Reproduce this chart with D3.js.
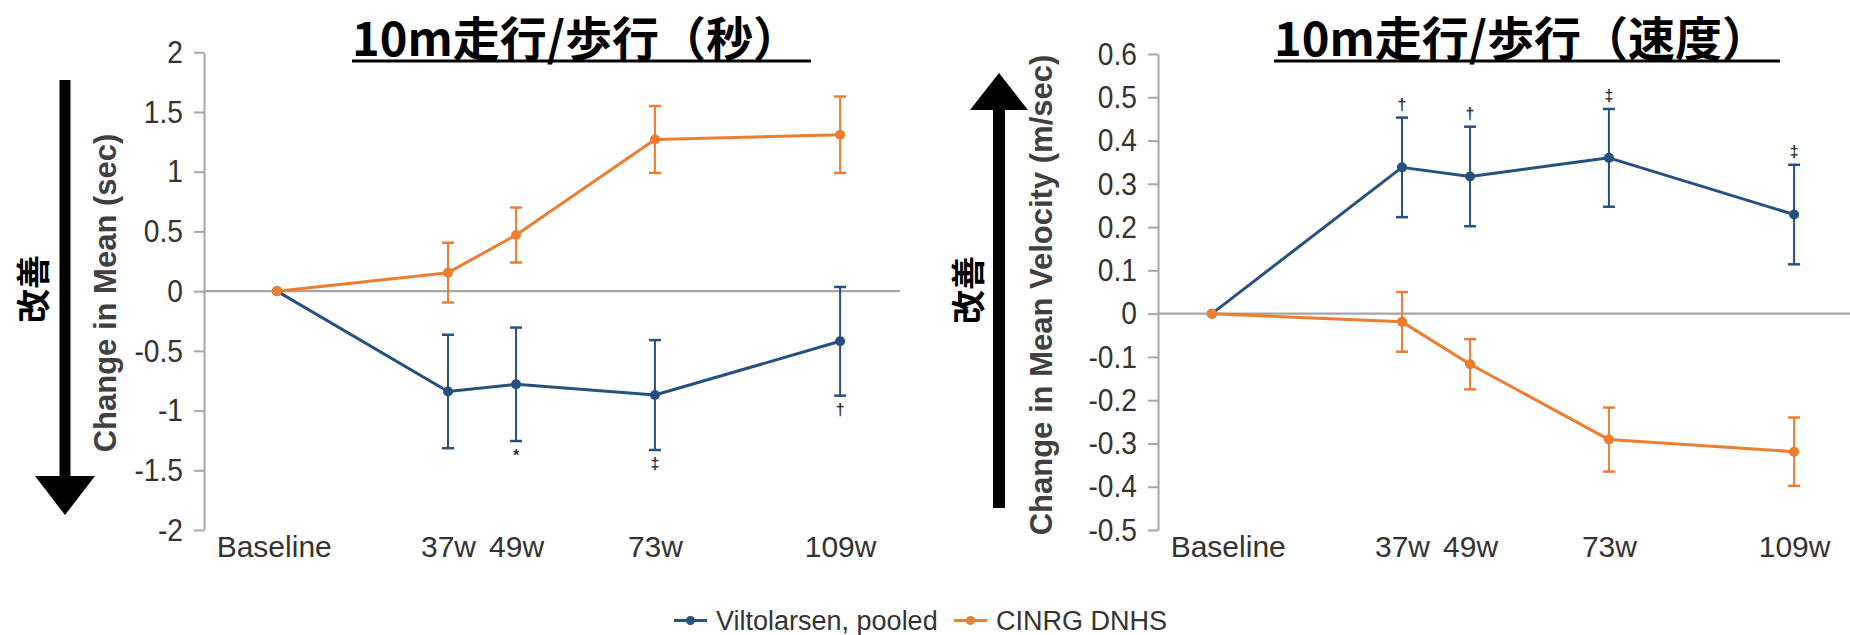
<!DOCTYPE html>
<html><head><meta charset="utf-8">
<script src="https://cdn.jsdelivr.net/npm/d3@7"></script>
<style>
body{margin:0;background:#fff;}
svg{display:block;}
</style>
</head><body>
<svg id="chart" width="1850" height="635"></svg>
<script>
// ---------- data ----------
const timeLabels = ["Baseline", "37w", "49w", "73w", "109w"];
const labelWeeks = [5, 37, 49.5, 75, 109];          // where the category labels sit on the time axis
const secWeeks   = [5.6, 37, 49.5, 75, 109];        // plotted time positions, left chart
const velWeeks   = [2.1, 37, 49.5, 75, 109];        // plotted time positions, right chart

const seriesNames = ["Viltolarsen, pooled", "CINRG DNHS"];

// 10m run/walk time change (sec)
const secVilto    = [0, -0.84, -0.78, -0.87, -0.42];
const secViltoErr = [0, 0.475, 0.475, 0.46, 0.455];
const secCinrg    = [0, 0.155, 0.47, 1.27, 1.31];
const secCinrgErr = [0, 0.25, 0.23, 0.28, 0.32];
const secViltoSig = ["", "", "*", "‡", "†"];

// 10m run/walk velocity change (m/sec)
const velVilto    = [0, 0.338, 0.317, 0.36, 0.229];
const velViltoErr = [0, 0.115, 0.115, 0.113, 0.115];
const velCinrg    = [0, -0.019, -0.117, -0.291, -0.319];
const velCinrgErr = [0, 0.069, 0.058, 0.074, 0.079];
const velViltoSig = ["", "†", "†", "‡", "‡"];

const secTicks = [-2, -1.5, -1, -0.5, 0, 0.5, 1, 1.5, 2];
const velTicks = [-0.5, -0.4, -0.3, -0.2, -0.1, 0, 0.1, 0.2, 0.3, 0.4, 0.5, 0.6];

const titles = ["10m走行/歩行（秒）", "10m走行/歩行（速度）"];
const yTitles = ["Change in Mean (sec)", "Change in Mean Velocity (m/sec)"];
const improveLabel = "改善";

// ---------- style ----------
const BLUE = "#25507f";
const ORANGE = "#ed7d31";
const AXIS = "#a6a6a6";
const TEXT = "#333333";
const SANS = "'Liberation Sans', Arial, sans-serif";
const CJK = "'Noto Sans CJK JP', 'Noto Sans CJK SC', sans-serif";
const TICK_SX = 0.88;

const svg = d3.select("#chart");

function drawChart(cfg) {
  const g = svg.append("g");
  const x = d3.scaleLinear().domain([-7.8, 120]).range([cfg.left, cfg.left + 696]);
  const y = d3.scaleLinear().domain(cfg.yDomain).range([530, cfg.yTop]);

  // zero line
  g.append("line")
    .attr("x1", x.range()[0]).attr("x2", x.range()[1])
    .attr("y1", y(0)).attr("y2", y(0))
    .attr("stroke", AXIS).attr("stroke-width", 2.2);

  // y axis
  const ya = g.append("g")
    .attr("transform", `translate(${cfg.left},0)`)
    .call(d3.axisLeft(y).tickValues(cfg.ticks).tickSize(10).tickSizeOuter(0)
      .tickPadding(10).tickFormat(d => String(d)));
  ya.select(".domain").attr("stroke", AXIS).attr("stroke-width", 2);
  ya.selectAll(".tick line").attr("stroke", AXIS).attr("stroke-width", 2);
  ya.selectAll(".tick text").attr("font-family", SANS).attr("font-size", 32)
    .attr("fill", TEXT)
    .attr("x", -21 / TICK_SX)
    .attr("transform", `scale(${TICK_SX},1)`);

  // x labels
  const xa = g.append("g")
    .attr("transform", `translate(0,530)`)
    .call(d3.axisBottom(x).tickValues(labelWeeks).tickSize(0).tickPadding(6)
      .tickFormat((d, i) => timeLabels[i]));
  xa.select(".domain").remove();
  xa.selectAll(".tick text").attr("font-family", SANS).attr("font-size", 30)
    .attr("fill", TEXT);

  // title with underline
  const t = g.append("text")
    .attr("x", cfg.titleX).attr("y", 55.5)
    .attr("font-family", CJK).attr("font-weight", 700).attr("font-size", 47)
    .attr("fill", "#000").text(cfg.title);
  const tl = t.node().getComputedTextLength();
  g.append("line")
    .attr("x1", cfg.titleX).attr("x2", cfg.titleX + tl + 11)
    .attr("y1", 61).attr("y2", 61)
    .attr("stroke", "#000").attr("stroke-width", 3);

  // y title
  g.append("text")
    .attr("transform", `translate(${cfg.yTitleX},${cfg.yTitleY}) rotate(-90)`)
    .attr("text-anchor", "middle").attr("dominant-baseline", "central")
    .attr("font-family", SANS).attr("font-weight", 700).attr("font-size", 31)
    .attr("fill", "#404040").text(cfg.yTitle);

  // series
  const series = [
    {vals: cfg.vilto, err: cfg.viltoErr, color: BLUE, sig: cfg.sig},
    {vals: cfg.cinrg, err: cfg.cinrgErr, color: ORANGE, sig: null}
  ];
  const line = d3.line().x((d, i) => x(cfg.weeks[i])).y(d => y(d));
  series.forEach(s => {
    const sg = g.append("g");
    s.vals.forEach((v, i) => {
      if (!s.err[i]) return;
      const cx = x(cfg.weeks[i]);
      const y1 = y(v + s.err[i]), y2 = y(v - s.err[i]);
      sg.append("line").attr("x1", cx).attr("x2", cx).attr("y1", y1).attr("y2", y2)
        .attr("stroke", s.color).attr("stroke-width", 2);
      [y1, y2].forEach(yy => sg.append("line")
        .attr("x1", cx - 6).attr("x2", cx + 6).attr("y1", yy).attr("y2", yy)
        .attr("stroke", s.color).attr("stroke-width", 2.5));
      if (s.sig && s.sig[i]) {
        const ty = cfg.sigAbove ? y1 - 13 : y2 + 14;
        sg.append("text").attr("x", cx).attr("y", ty)
          .attr("text-anchor", "middle").attr("dominant-baseline", "central")
          .attr("font-family", SANS).attr("font-weight", 700).attr("font-size", 16).attr("fill", TEXT)
          .text(s.sig[i]);
      }
    });
    sg.append("path").attr("d", line(s.vals)).attr("fill", "none")
      .attr("stroke", s.color).attr("stroke-width", 3).attr("stroke-linejoin", "round");
    sg.selectAll("circle").data(s.vals).join("circle")
      .attr("cx", (d, i) => x(cfg.weeks[i])).attr("cy", d => y(d))
      .attr("r", 5).attr("fill", s.color);
  });
}

drawChart({
  left: 204, yDomain: [-2, 2], yTop: 52.3, ticks: secTicks, weeks: secWeeks,
  title: titles[0], titleX: 352, yTitle: yTitles[0], yTitleX: 105, yTitleY: 293,
  vilto: secVilto, viltoErr: secViltoErr, cinrg: secCinrg, cinrgErr: secCinrgErr,
  sig: secViltoSig, sigAbove: false
});
drawChart({
  left: 1158, yDomain: [-0.5, 0.6], yTop: 54, ticks: velTicks, weeks: velWeeks,
  title: titles[1], titleX: 1274, yTitle: yTitles[1], yTitleX: 1041, yTitleY: 295,
  vilto: velVilto, viltoErr: velViltoErr, cinrg: velCinrg, cinrgErr: velCinrgErr,
  sig: velViltoSig, sigAbove: true
});

// improvement arrows
// left: pointing down
svg.append("rect").attr("x", 59.5).attr("y", 80).attr("width", 11).attr("height", 398).attr("fill", "#000");
svg.append("path").attr("d", "M35,476 L95,476 L65,515 Z").attr("fill", "#000");
svg.append("text")
  .attr("transform", "translate(31,289) rotate(-90)")
  .attr("text-anchor", "middle").attr("dominant-baseline", "central")
  .attr("font-family", CJK).attr("font-weight", 700).attr("font-size", 34)
  .attr("fill", "#000").text(improveLabel);
// right: pointing up
svg.append("path").attr("d", "M999,73 L1028,110 L970,110 Z").attr("fill", "#000");
svg.append("rect").attr("x", 993).attr("y", 108).attr("width", 12).attr("height", 400).attr("fill", "#000");
svg.append("text")
  .attr("transform", "translate(966,290) rotate(-90)")
  .attr("text-anchor", "middle").attr("dominant-baseline", "central")
  .attr("font-family", CJK).attr("font-weight", 700).attr("font-size", 34)
  .attr("fill", "#000").text(improveLabel);

// legend
const legendItems = [
  {name: seriesNames[0], color: BLUE, mx: 674, tx: 716},
  {name: seriesNames[1], color: ORANGE, mx: 954, tx: 996}
];
const lg = svg.append("g");
legendItems.forEach(it => {
  lg.append("line").attr("x1", it.mx).attr("x2", it.mx + 33)
    .attr("y1", 620.5).attr("y2", 620.5).attr("stroke", it.color).attr("stroke-width", 3);
  lg.append("circle").attr("cx", it.mx + 16.5).attr("cy", 620.5).attr("r", 4.5).attr("fill", it.color);
  lg.append("text").attr("x", it.tx).attr("y", 630)
    .attr("font-family", SANS).attr("font-size", 27).attr("fill", TEXT).text(it.name);
});
</script>
</body></html>
